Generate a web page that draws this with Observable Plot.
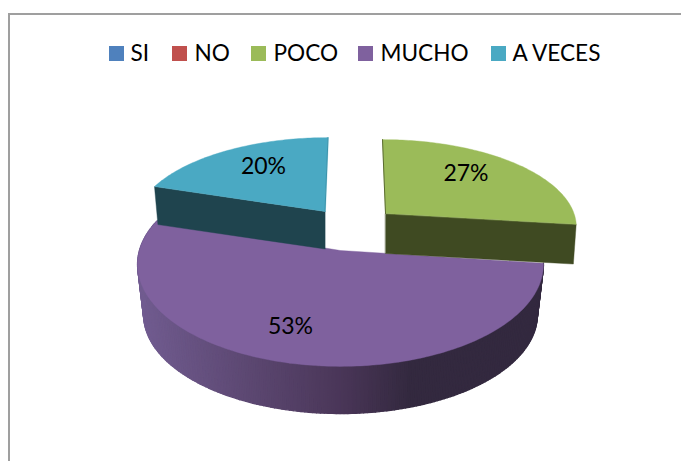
<!DOCTYPE html>
<html>
<head>
<meta charset="utf-8">
<script src="https://cdn.jsdelivr.net/npm/d3@7"></script>
<script src="https://cdn.jsdelivr.net/npm/@observablehq/plot@0.6"></script>
<style>
html,body{margin:0;padding:0;background:#fff}
svg{display:block}
</style>
</head>
<body>
<div id="chart"></div>
<script>
// Data
const categories = ["SI", "NO", "POCO", "MUCHO", "A VECES"];
const values = [0, 0, 27, 53, 20];
const colors = ["#4f81bd", "#c0504d", "#9bbb59", "#7f619e", "#4aa9c3"];
const wallColors = {"POCO": "#3f4a22", "A VECES": "#1f444e"};

// Layout of the 3D look (not data)
const W = 681, H = 461, tilt = 0.137;
const geometry = {
  "POCO":    {cx: 385, cy: 213, rx: 188.5, ry: 84,  shear: -3.4, scale: 0.985, depth: 40,   label: [465.5, 173]},
  "MUCHO":   {cx: 340, cy: 250, rx: 201, ry: 100, shear: 0,    scale: 0.97, depth: 50.6, label: [290, 326]},
  "A VECES": {cx: 324.5, cy: 211, rx: 188, ry: 84, shear: 3.4, scale: 0.98, depth: 37.5, label: [263, 166]}
};
const legendLeft = [109, 172, 251, 358, 491];
const legendTextOffset = [21, 22, 22, 22, 21];

// Angles from the values
const total = d3.sum(values);
let running = 0;
const slices = categories.map((name, i) => {
  const a0 = running / total * 2 * Math.PI;
  running += values[i];
  return {name, value: values[i], a0, a1: running / total * 2 * Math.PI, color: colors[i]};
}).filter(d => d.value > 0);

function project(g, a, bottom) {
  const u = Math.sin(a), v = Math.cos(a), w = 1 + tilt * v;
  const s = bottom ? g.scale : 1;
  return {
    x: g.cx + (g.rx * s * u + g.shear * v) / w,
    y: g.cy + (bottom ? g.depth : 0) - g.ry * s * v / w
  };
}
function arc(g, a0, a1, bottom) {
  const n = Math.ceil(Math.abs(a1 - a0) / (Math.PI / 180));
  return d3.range(n + 1).map(i => project(g, a0 + (a1 - a0) * i / n, bottom));
}
const apex = (g, bottom) => ({x: g.cx, y: g.cy + (bottom ? g.depth : 0)});

const bySlice = Object.fromEntries(slices.map(d => [d.name, d]));
const topFace = d => [apex(geometry[d.name]), ...arc(geometry[d.name], d.a0, d.a1)];
const polygon = (points, fill) => Plot.line(points, {x: "x", y: "y", fill, stroke: fill, strokeWidth: 0.4, curve: "linear-closed"});

// Shaded curved wall of the large slice, cut into thin strips
const shade = d3.scaleLinear().domain([137, 340, 410, 543]).range(["#715c90", "#4a3658", "#33293f", "#33293f"]);
const m = bySlice["MUCHO"], mg = geometry["MUCHO"];
const upper = arc(mg, m.a0, m.a1), lower = arc(mg, m.a0, m.a1, true);
const strips = d3.range(upper.length - 1).flatMap(i => {
  const color = shade((upper[i].x + upper[i + 1].x) / 2);
  return [upper[i], upper[i + 1], lower[i + 1], lower[i]].map(p => ({...p, strip: i, color}));
});

// Flat radial wall of an exploded slice
function radialWall(name, a) {
  const g = geometry[name];
  return [apex(g), project(g, a), project(g, a, true), apex(g, true)];
}

const po = bySlice["POCO"], av = bySlice["A VECES"];
const legendRows = categories.map((name, i) => ({name, color: colors[i], x: legendLeft[i], tx: legendLeft[i] + legendTextOffset[i]}));
const labelRows = slices.map(d => ({text: d.value + "%", x: geometry[d.name].label[0], y: geometry[d.name].label[1]}));
const font = "Lato, Carlito, Calibri, sans-serif";

const plot = Plot.plot({
  width: W, height: H,
  margin: 0,
  style: {background: "#fff", fontFamily: font},
  x: {domain: [0, W], range: [0, W], axis: null},
  y: {domain: [0, H], range: [0, H], axis: null},
  color: {type: "identity"},
  marks: [
    // frame
    Plot.ruleX([8.5], {stroke: "#9f9f9f", strokeWidth: 2, y1: 13, y2: H}),
    Plot.ruleY([13.5], {stroke: "#9f9f9f", strokeWidth: 2, x1: 8, x2: W}),
    // large slice: wall and top
    Plot.line(strips, {x: "x", y: "y", z: "strip", fill: "color", stroke: "color", strokeWidth: 1.4, curve: "linear-closed"}),
    polygon(topFace(m), m.color),
    // exploded slices: walls
    polygon(radialWall("A VECES", av.a0), wallColors["A VECES"]),
    polygon(radialWall("POCO", po.a1), wallColors["POCO"]),
    // exploded slices: tops
    polygon(topFace(av), av.color),
    polygon(topFace(po), po.color),
    // thin edges at the gap
    Plot.line([apex(geometry["POCO"]), project(geometry["POCO"], 0)], {x: "x", y: "y", stroke: "#5a6b30", strokeWidth: 1}),
    Plot.line([apex(geometry["A VECES"]), project(geometry["A VECES"], 0)], {x: "x", y: "y", stroke: "#3a93ab", strokeWidth: 1}),
    // legend
    Plot.rect(legendRows, {x1: "x", x2: d => d.x + 15, y1: () => 46, y2: () => 61, fill: "color"}),
    Plot.text(legendRows, {x: "tx", y: () => 53, text: "name", textAnchor: "start", fontSize: 22.6, fill: "#000"}),
    // percentages
    Plot.text(labelRows, {x: "x", y: "y", text: "text", fontSize: 23, fill: "#000"})
  ]
});
document.getElementById("chart").appendChild(plot);
</script>
</body>
</html>
